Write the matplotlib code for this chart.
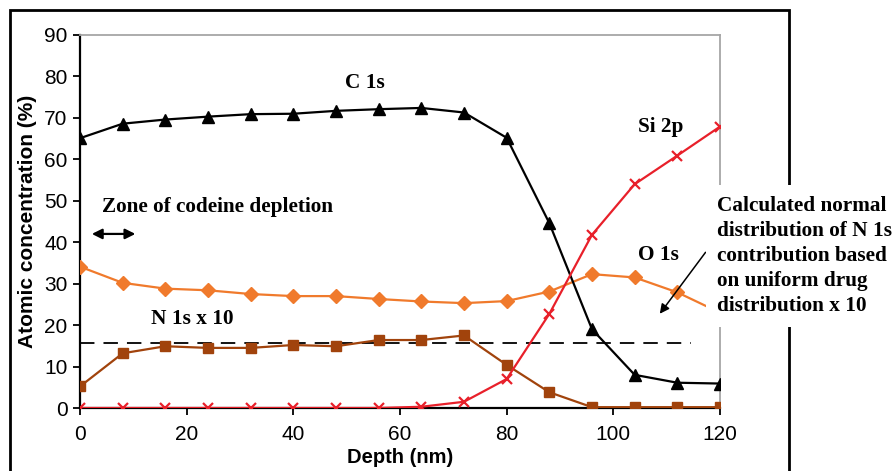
import matplotlib.pyplot as plt
from matplotlib.patches import Rectangle

# depth profile, sampled every 8 nm
depth = [0, 8, 16, 24, 32, 40, 48, 56, 64, 72, 80, 88, 96, 104, 112, 120]
c1s = [65.1, 68.6, 69.6, 70.3, 70.9, 71.0, 71.7, 72.1, 72.4, 71.3, 65.2, 44.6, 19.0, 8.0, 6.1, 5.9]
o1s = [34.1, 30.2, 28.8, 28.4, 27.5, 27.0, 27.0, 26.3, 25.7, 25.3, 25.8, 28.1, 32.3, 31.5, 27.9, 23.0]
n1s_x10 = [5.2, 13.2, 14.9, 14.5, 14.5, 15.2, 14.9, 16.4, 16.4, 17.5, 10.4, 3.8, 0.2, 0.2, 0.2, 0.2]
si2p = [0, 0, 0, 0, 0, 0, 0, 0, 0.3, 1.5, 7.0, 22.7, 41.8, 54.0, 60.9, 67.9]
n_uniform = 15.6

fig = plt.figure(figsize=(8.94, 4.71), dpi=100)
ax = fig.add_axes([80/894, 1 - 408/471, 640/894, 373/471])

ax.plot(depth, c1s, '-', color='black', lw=1.6, marker='^', ms=8.5, zorder=4)
ax.plot(depth, o1s, '-', color='#f07a2c', lw=1.6, marker='D', ms=7, zorder=3)
ax.plot(depth, n1s_x10, '-', color='#a1430c', lw=1.6, marker='s', ms=7.5, zorder=3)
ax.plot(depth, si2p, '-', color='#e8202a', lw=1.6, marker='x', ms=7, mew=1.6, zorder=5)
ax.plot([0, 114.5], [n_uniform, n_uniform], color='black', lw=1.3, dashes=(8, 5), zorder=2)

ax.set_xlim(0, 120)
ax.set_ylim(0, 90)
ax.set_xticks(range(0, 121, 20))
ax.set_yticks(range(0, 91, 10))
ax.tick_params(direction='out', length=5, width=1.3, labelsize=15)
ax.tick_params(axis='x', pad=7)
ax.tick_params(axis='y', pad=4)
for lab in ax.get_xticklabels() + ax.get_yticklabels():
    lab.set_fontfamily('Liberation Sans')
for s in ['left', 'bottom']:
    ax.spines[s].set_linewidth(1.6)
for s in ['top', 'right']:
    ax.spines[s].set_color('#a6a6a6')
    ax.spines[s].set_linewidth(1.3)

ax.set_xlabel('Depth (nm)', fontfamily='Liberation Sans', fontweight='bold', fontsize=14.5, labelpad=3)
ax.set_ylabel('Atomic concentration (%)', fontfamily='Liberation Sans', fontweight='bold', fontsize=15, labelpad=5)

serif = dict(fontfamily='Liberation Serif', fontweight='bold', fontsize=15.3)
ax.text(53.4, 78.4, 'C 1s', ha='center', va='center', **serif)
ax.text(108.8, 67.8, 'Si 2p', ha='center', va='center', **serif)
ax.text(108.4, 36.9, 'O 1s', ha='center', va='center', **serif)
ax.text(21, 21.5, 'N 1s x 10', ha='center', va='center', **serif)
ax.text(4.1, 48.5, 'Zone of codeine depletion', ha='left', va='center', **serif)
ax.annotate('', xy=(1.7, 42), xytext=(10.9, 42),
            arrowprops=dict(arrowstyle='<|-|>', color='black', lw=1.6, mutation_scale=15))

ax.text(119.4, 36.7, 'Calculated normal\ndistribution of N 1s\ncontribution based\non uniform drug\ndistribution x 10',
        ha='left', va='center', linespacing=1.33, clip_on=False, zorder=10,
        bbox=dict(facecolor='white', edgecolor='none', pad=8), **serif)
ax.annotate('', xy=(108.4, 22.2), xytext=(117.6, 38.1), annotation_clip=False,
            arrowprops=dict(arrowstyle='-|>', color='black', lw=1.1, mutation_scale=14))

# outer frame round the whole chart
fig.add_artist(Rectangle((10/894, -0.05), 779/894, 1 - 10/471 + 0.05, transform=fig.transFigure,
                         fill=False, edgecolor='black', lw=2, zorder=-1))

fig.savefig('out.png', dpi=100)
